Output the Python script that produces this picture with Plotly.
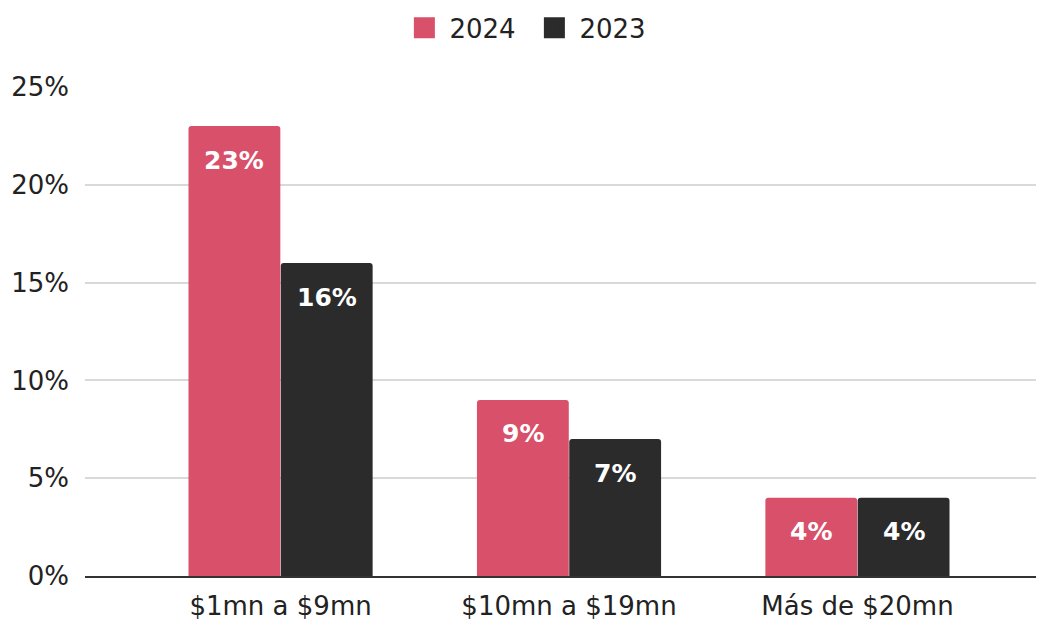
import plotly.graph_objects as go

categories = ["$1mn a $9mn", "$10mn a $19mn", "Más de $20mn"]
series_names = ["2024", "2023"]
values_2024 = [23, 9, 4]
values_2023 = [16, 7, 4]
y_ticks = [0, 5, 10, 15, 20, 25]
y_tick_labels = [f"{v}%" for v in y_ticks]

colors = {"2024": "#d9506a", "2023": "#2b2b2b"}
series_values = {"2024": values_2024, "2023": values_2023}

FONT = "DejaVu Sans, Roboto, Arial, sans-serif"

fig = go.Figure()
for name in series_names:
    fig.add_trace(go.Bar(
        x=categories, y=series_values[name], name=name,
        marker=dict(color=colors[name], line=dict(width=0)),
        showlegend=False, hoverinfo="skip",
    ))
    # legend entry drawn as a larger square marker
    fig.add_trace(go.Scatter(
        x=[None], y=[None], mode="markers", name=name,
        marker=dict(symbol="square", size=16, color=colors[name],
                    line=dict(width=5, color=colors[name])),
    ))

# value labels just below each bar top
offsets = {"2024": -0.16, "2023": 0.16}
for name in series_names:
    for i, v in enumerate(series_values[name]):
        fig.add_annotation(
            x=i + offsets[name], y=v, xref="x", yref="y",
            text=f"{v}%", showarrow=False, yshift=-34, yanchor="middle",
            font=dict(family=FONT, size=25, color="white", weight="bold"),
        )

fig.update_layout(
    width=1038, height=622,
    margin=dict(l=85, r=2, t=87, b=46, autoexpand=False),
    paper_bgcolor="white", plot_bgcolor="white",
    barmode="group", bargap=0.36, bargroupgap=0.005,
    barcornerradius=3,
    font=dict(family=FONT, color="#222222"),
    legend=dict(orientation="h", x=0.51, xref="container", xanchor="center",
                y=0.993, yref="container", yanchor="top",
                font=dict(family=FONT, size=26, color="#222222"),
                itemwidth=40, entrywidth=75, tracegroupgap=0),
)
fig.update_xaxes(
    type="category", range=[-0.678, 2.619], automargin=False,
    showgrid=False, showline=True, linecolor="#333333", linewidth=1.5,
    ticks="", tickfont=dict(family=FONT, size=26, color="#222222"),
    ticklabelstandoff=6,
)
fig.update_yaxes(
    range=[0, 25], tickvals=y_ticks, ticktext=y_tick_labels, automargin=False,
    showgrid=True, gridcolor="#d9d9d9", gridwidth=1.5,
    zeroline=False, showline=False, ticks="",
    tickfont=dict(family=FONT, size=26, color="#222222"),
    ticklabelstandoff=15,
)

fig.write_html("out.html")
